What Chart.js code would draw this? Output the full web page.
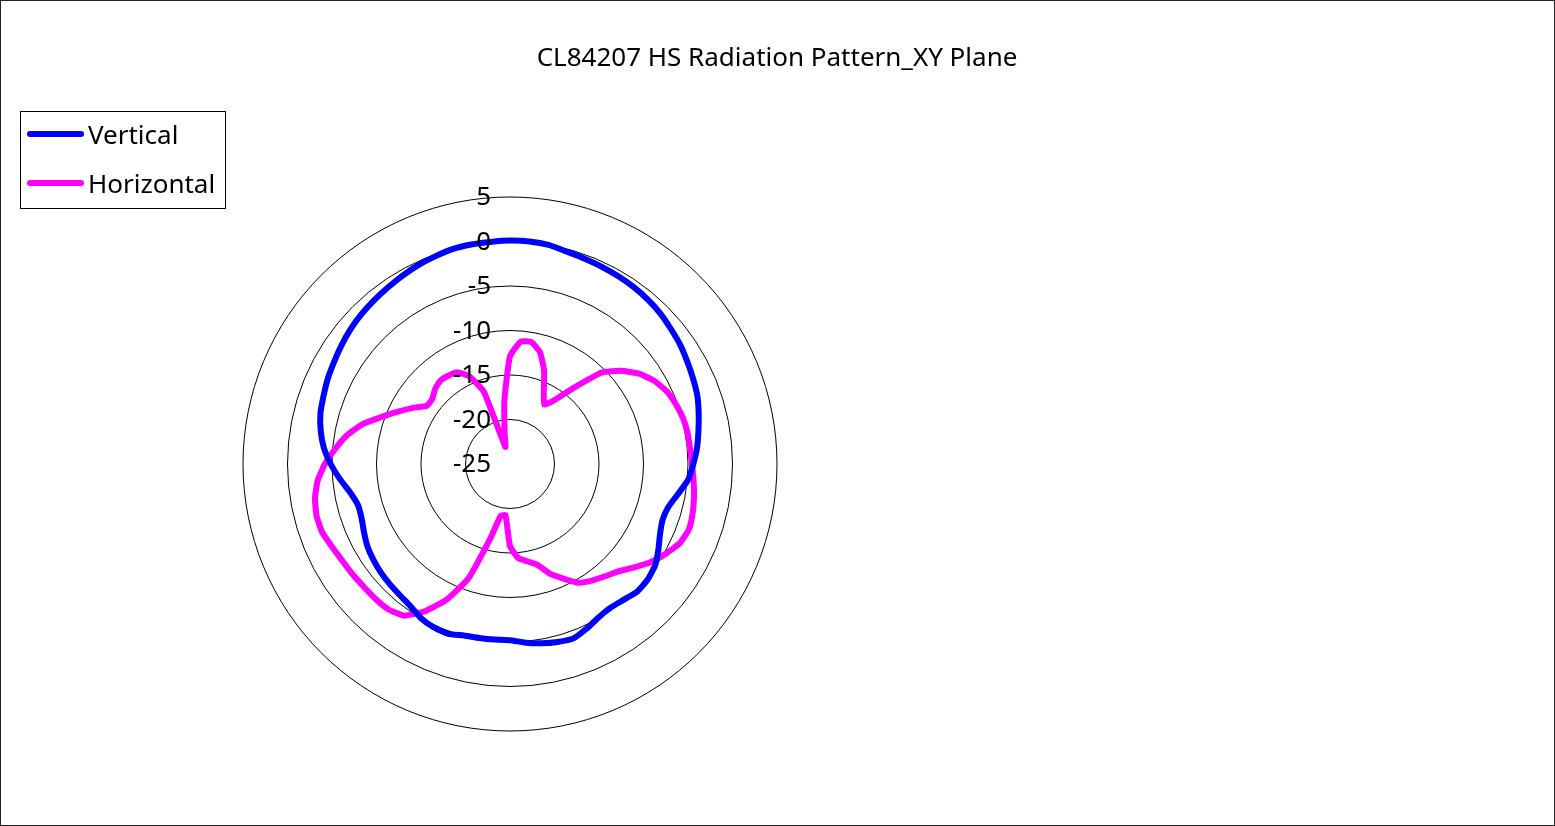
<!DOCTYPE html>
<html>
<head>
<meta charset="utf-8">
<script src="https://cdn.jsdelivr.net/npm/chart.js@4.4.1/dist/chart.umd.min.js"></script>
<style>
  html, body { margin: 0; padding: 0; background: #fff; }
  canvas { display: block; }
</style>
</head>
<body>
<canvas id="chart" width="1555" height="826"></canvas>
<script>
let title = 'CL84207 HS Radiation Pattern_XY Plane';
let seriesNames = ['Vertical', 'Horizontal'];
let tickValues = [-25, -20, -15, -10, -5, 0, 5];

let angles = [0,5,10,15,20,25,30,35,40,45,50,55,60,65,70,75,80,85,
  90,95,100,105,110,115,120,125,130,135,140,145,150,155,160,165,170,175,
  180,185,190,195,200,205,210,215,220,225,230,235,240,245,250,255,260,265,
  270,275,280,285,290,295,300,305,310,315,320,325,330,335,340,345,350,355];

let vertical = [0.1,0.1,0.0,-0.3,-0.45,-0.55,-0.65,-0.75,-0.9,-1.1,-1.4,-1.65,-2.0,-2.3,-2.6,-3.05,-3.5,-3.9,
  -4.4,-4.9,-5.8,-6.55,-6.75,-6.4,-5.75,-5.1,-4.8,-4.75,-5.1,-5.3,-5.1,-4.6,-4.15,-4.3,-4.55,-4.85,
  -5.2,-5.2,-5.15,-5.05,-4.7,-4.75,-5.0,-5.5,-5.75,-5.9,-6.05,-6.25,-6.5,-6.9,-7.25,-7.3,-6.75,-5.8,
  -4.85,-4.0,-3.4,-2.95,-2.7,-2.4,-2.15,-1.85,-1.55,-1.3,-1.1,-0.9,-0.65,-0.4,-0.2,0.0,0.05,0.05];

let horizontal = [-12.9,-11.2,-11.1,-12.0,-13.8,-16.0,-17.3,-16.2,-13.8,-10.5,-8.7,-7.3,-6.3,-5.6,-5.2,-4.9,-4.75,-4.7,
  -4.55,-4.3,-4.0,-3.75,-3.6,-3.95,-4.8,-5.75,-6.9,-7.9,-8.5,-9.0,-9.6,-10.8,-11.9,-13.3,-13.9,-14.4,
  -15.8,-19.2,-19.1,-16.2,-11.3,-8.2,-5.9,-4.2,-3.7,-3.6,-3.55,-3.4,-3.25,-2.95,-2.55,-2.5,-2.75,-3.3,
  -4.2,-5.3,-6.4,-7.8,-9.6,-11.1,-12.4,-13.6,-13.6,-13.1,-12.8,-12.9,-13.1,-14.1,-16.3,-23.0,-21.5,-17.8];

let colors = ['#0000ff', '#ff00ff'];
let font = '"Noto Sans", "Open Sans", sans-serif';

// title, legend box, tick labels and frame drawn straight on the canvas
let decor = {
  id: 'decor',
  afterDatasetsDraw(chart) {
    let ctx = chart.ctx;
    let r = chart.scales.r;
    ctx.save();
    ctx.fillStyle = '#000';
    ctx.font = '26px ' + font;
    ctx.textAlign = 'right';
    ctx.textBaseline = 'middle';
    tickValues.forEach(v => {
      let d = r.getDistanceFromCenterForValue(v);
      ctx.fillText(String(v), r.xCenter - 19, r.yCenter - d + 1);
    });

    ctx.textAlign = 'center';
    ctx.fillText(title, 777, 59);

    ctx.strokeStyle = '#000';
    ctx.lineWidth = 1;
    ctx.strokeRect(20.5, 111.5, 205, 97);
    ctx.textAlign = 'left';
    let rows = [134, 183];
    seriesNames.forEach((name, i) => {
      ctx.beginPath();
      ctx.strokeStyle = colors[i];
      ctx.lineWidth = 6;
      ctx.lineCap = 'round';
      ctx.moveTo(30, rows[i]);
      ctx.lineTo(81, rows[i]);
      ctx.stroke();
      ctx.fillStyle = '#000';
      ctx.fillText(name, 88, rows[i] + 3);
    });

    ctx.strokeStyle = '#222';
    ctx.lineWidth = 1;
    ctx.lineCap = 'butt';
    ctx.strokeRect(0.5, 0.5, chart.width - 1, chart.height - 1);
    ctx.restore();
  }
};

let chart = new Chart(document.getElementById('chart').getContext('2d'), {
  type: 'radar',
  data: {
    labels: angles,
    datasets: [{
      label: seriesNames[0],
      data: vertical,
      borderColor: colors[0],
      borderWidth: 6,
      pointRadius: 0,
      fill: false,
      tension: 0.15
    }, {
      label: seriesNames[1],
      data: horizontal,
      borderColor: colors[1],
      borderWidth: 6,
      pointRadius: 0,
      fill: false,
      tension: 0.15
    }]
  },
  options: {
    responsive: false,
    animation: false,
    devicePixelRatio: 1,
    layout: { padding: { left: 243, top: 197, right: 778, bottom: 95 } },
    plugins: {
      legend: { display: false },
      title: { display: false },
      tooltip: { enabled: false }
    },
    elements: { line: { borderJoinStyle: 'round', borderCapStyle: 'round' } },
    scales: {
      r: {
        min: -25,
        max: 5,
        ticks: { stepSize: 5, display: false },
        grid: { circular: true, color: '#000', lineWidth: 1 },
        angleLines: { display: false },
        pointLabels: { display: false }
      }
    }
  },
  plugins: [decor]
});
</script>
</body>
</html>
